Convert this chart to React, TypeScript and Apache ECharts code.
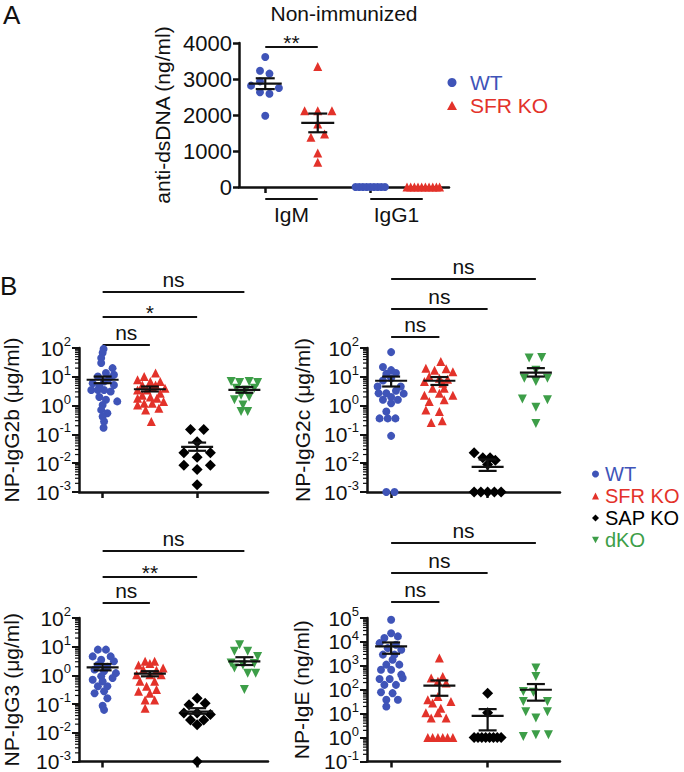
import React, { useEffect, useRef } from "react";
import * as echarts from "echarts";

type Pt = [number, number]; // [horizontal jitter in category units, value]

const FONT = "'Liberation Sans', Arial, Helvetica, sans-serif";
const INK = "#111111";

const GENOTYPES = ["WT", "SFR KO", "SAP KO", "dKO"];
const GENO_COLORS = ["#3f54b8", "#e3322a", "#000000", "#3d9e48"];
const GENO_SYMBOLS = ["circle", "triangle", "diamond", "path://M0,0L10,0L5,9Z"];
const GENO_SIZES = [8, 9, 11, 9];

// ---------- Panel A : Non-immunized anti-dsDNA ----------
const aTitle = "Non-immunized";
const aYName = "anti-dsDNA (ng/ml)";
const aIsotypes = ["IgM", "IgG1"];
const aCategories = ["IgM WT", "IgM SFR KO", "IgG1 WT", "IgG1 SFR KO"];
const aCategoryGeno = [0, 1, 0, 1];
const aYMin = 0;
const aYMax = 4000;
const aYStep = 1000;
const igmWT: Pt[] = [[0, 3610], [-0.1, 3230], [0.08, 3150], [-0.1, 2935], [-0.27, 2815], [0.26, 2750], [-0.1, 2630], [0.08, 2590], [0, 1980]];
const igmSFR: Pt[] = [[0, 3350], [-0.25, 2120], [0, 2120], [0.27, 2120], [0, 1750], [-0.13, 1380], [0.13, 1470], [0, 945], [0, 685]];
const igg1WT: Pt[] = [[-0.28, 0], [-0.21, 0], [-0.14, 0], [-0.07, 0], [0, 0], [0.07, 0], [0.14, 0], [0.21, 0], [0.28, 0]];
const igg1SFR: Pt[] = [[-0.3, 0], [-0.23, 0], [-0.16, 0], [-0.09, 0], [-0.02, 0], [0.05, 0], [0.12, 0], [0.19, 0], [0.26, 0], [0.32, 0]];
const aStatCats = [0, 1];
const aMean = [2870, 1780];
const aSemLow = [2720, 1520];
const aSemHigh = [3020, 2040];
const aSig = ["**"];

// ---------- Panel B : NP-specific isotypes (log scale) ----------
const igg2bWT: Pt[] = [[0.02, 93], [0, 68], [-0.03, 45], [-0.03, 30], [0.21, 20], [0.07, 13.5], [0.24, 11.7], [-0.1, 10.2], [0.14, 8.9], [0.03, 6.9], [-0.21, 6.0], [0.24, 5.2], [-0.07, 4.6], [-0.24, 3.5], [-0.1, 3.5], [0.03, 3.5], [0.17, 3.1], [-0.07, 2.0], [0.07, 1.6], [0.31, 1.4], [0, 1.05], [-0.03, 0.71], [0.1, 0.54], [0, 0.42], [0.03, 0.28], [0.02, 0.17]];
const igg2bSFR: Pt[] = [[0.12, 13.5], [-0.12, 10.2], [-0.26, 7.9], [0.01, 6.9], [0.22, 6.9], [-0.16, 5.2], [0.12, 5.2], [0.32, 4.0], [-0.26, 3.5], [-0.06, 3.5], [0.05, 4.6], [0.22, 2.7], [-0.16, 2.3], [0.01, 2.0], [-0.26, 1.8], [0.15, 1.8], [0.29, 1.4], [-0.12, 1.2], [0.05, 1.2], [0.19, 0.81], [-0.09, 0.71], [-0.26, 1.05], [0.03, 0.28]];
const igg2bSAP: Pt[] = [[-0.14, 0.148], [0.14, 0.148], [0, 0.056], [-0.28, 0.023], [0.28, 0.023], [0, 0.016], [-0.28, 0.0085], [0.28, 0.0085], [0, 0.006], [0, 0.0018]];
const igg2bDKO: Pt[] = [[-0.28, 6.9], [-0.1, 6.3], [0.1, 6.9], [0.28, 6.3], [-0.17, 4.0], [0.03, 3.5], [0.21, 4.0], [-0.07, 2.3], [0.1, 2.0], [-0.21, 1.6], [-0.03, 1.05], [-0.07, 0.62], [0.07, 0.62]];
const igg2bMean = [7.9, 3.7, 0.037, 3.5];
const igg2bSemLow = [6.0, 3.1, 0.027, 2.8];
const igg2bSemHigh = [10.2, 4.6, 0.052, 4.4];
const igg2bSig = ["ns", "*", "ns"];

const igg2cWT: Pt[] = [[0, 72], [-0.17, 22], [0, 17], [0.1, 13.5], [-0.1, 12.6], [0, 8.9], [-0.17, 7.4], [0.2, 4.6], [-0.28, 4.6], [-0.26, 2.7], [-0.1, 2.7], [0.1, 3.3], [0.26, 2.6], [0, 2.0], [-0.17, 1.6], [0.14, 1.6], [0, 1.2], [-0.1, 0.62], [-0.24, 0.36], [-0.07, 0.36], [0.09, 0.36], [0, 0.089], [-0.1, 0.001], [0.07, 0.001]];
const igg2cSFR: Pt[] = [[0.03, 34], [-0.28, 20], [-0.1, 17], [0.14, 19], [0.28, 15], [-0.21, 10.2], [0, 8.9], [0.17, 8.3], [-0.31, 6.9], [0.07, 6.0], [-0.14, 4.0], [0.1, 4.0], [-0.31, 2.3], [0, 2.7], [0.28, 2.3], [-0.21, 1.4], [0.1, 1.6], [-0.28, 0.71], [0, 0.62], [-0.17, 0.26], [0.06, 0.3]];
const igg2cSAP: Pt[] = [[-0.28, 0.023], [-0.1, 0.0155], [0.05, 0.0155], [0.16, 0.0126], [0, 0.009], [-0.28, 0.001], [-0.14, 0.001], [0, 0.001], [0.14, 0.001], [0.28, 0.001]];
const igg2cDKO: Pt[] = [[-0.14, 45], [0.12, 47], [0, 17], [-0.24, 8.9], [0.24, 8.9], [0, 6.9], [-0.28, 1.7], [0.24, 1.6], [0, 0.87], [0, 0.24]];
const igg2cMean = [7.3, 7.3, 0.0074, 14];
const igg2cSemLow = [4.6, 5.2, 0.0054, 10.2];
const igg2cSemHigh = [10.2, 9.8, 0.0135, 20];
const igg2cSig = ["ns", "ns", "ns"];

const igg3WT: Pt[] = [[-0.1, 7.9], [0.07, 7.9], [-0.21, 4.6], [0.17, 4.6], [-0.03, 3.5], [0.24, 3.1], [-0.1, 2.3], [0.1, 2.0], [-0.17, 1.6], [0.03, 1.4], [0.28, 1.2], [-0.03, 0.93], [0.21, 0.81], [-0.21, 0.71], [0, 0.62], [-0.1, 0.42], [0.1, 0.42], [-0.17, 0.24], [0.03, 0.28], [0.1, 0.16], [0, 0.087], [0.03, 0.063]];
const igg3SFR: Pt[] = [[-0.1, 3.1], [0.1, 3.1], [-0.24, 2.3], [0, 2.6], [0.28, 1.8], [-0.14, 1.6], [0.14, 1.5], [-0.28, 1.05], [0, 1.05], [0.24, 1.05], [-0.21, 0.62], [0.1, 0.62], [-0.07, 0.42], [0.14, 0.32], [-0.24, 0.28], [0, 0.24], [-0.1, 0.14], [0.1, 0.14], [-0.1, 0.072]];
const igg3SAP: Pt[] = [[0, 0.16], [-0.17, 0.095], [0.17, 0.107], [-0.28, 0.049], [0, 0.049], [0.28, 0.043], [-0.14, 0.028], [0.14, 0.028], [0, 0.019], [0, 0.001]];
const igg3DKO: Pt[] = [[-0.1, 11.7], [-0.21, 6.9], [0.07, 6.9], [0.28, 4.6], [-0.28, 2.7], [-0.03, 2.3], [0.21, 2.6], [-0.21, 1.8], [0.07, 1.2], [0.24, 1.2], [0, 0.32]];
const igg3Mean = [1.9, 1.15, 0.055, 3.1];
const igg3SemLow = [1.5, 0.93, 0.046, 2.3];
const igg3SemHigh = [2.5, 1.4, 0.072, 4.3];
const igg3Sig = ["ns", "**", "ns"];

const igeWT: Pt[] = [[0, 85000], [0, 23000], [-0.14, 14500], [0.14, 17000], [-0.24, 8900], [0.1, 7600], [-0.07, 5500], [0.21, 4700], [-0.17, 2950], [0.07, 2950], [0.03, 1800], [-0.1, 1120], [0.17, 1120], [-0.21, 690], [0, 690], [0.21, 430], [-0.24, 280], [-0.03, 280], [0.24, 310], [-0.14, 160], [0.1, 160], [-0.21, 78], [0.03, 72], [-0.1, 38], [0.14, 38], [-0.1, 20]];
const igeSFR: Pt[] = [[0, 2150], [-0.17, 310], [0.07, 360], [-0.03, 225], [0.14, 190], [-0.24, 38], [-0.03, 52], [-0.14, 28], [0.24, 32], [0.03, 17], [-0.28, 11], [-0.03, 11], [-0.17, 6.6], [0.14, 6.6], [-0.24, 1], [-0.14, 1], [-0.03, 1], [0.07, 1], [0.17, 1], [0.28, 1]];
const igeSAP: Pt[] = [[0, 72], [0, 11], [-0.28, 1], [-0.2, 1], [-0.12, 1], [-0.04, 1], [0.04, 1], [0.12, 1], [0.2, 1], [0.28, 1]];
const igeDKO: Pt[] = [[0, 810], [0, 360], [-0.26, 85], [-0.05, 78], [-0.26, 32], [0.24, 32], [-0.21, 12], [0.24, 12], [0, 6.6], [-0.26, 1.1], [0, 1.3], [0.26, 1.3]];
const igeMean = [6500, 148, 8.1, 100];
const igeSemLow = [3200, 56, 2.0, 35];
const igeSemHigh = [9500, 245, 15.5, 173];
const igeSig = ["ns", "ns", "ns"];

const bNames = ["NP-IgG2b (μg/ml)", "NP-IgG2c (μg/ml)", "NP-IgG3 (μg/ml)", "NP-IgE (ng/ml)"];
const bLogMin = [-3, -3, -3, -1];
const bLogMax = [2, 2, 2, 5];
const bGroups = [
  [igg2bWT, igg2bSFR, igg2bSAP, igg2bDKO],
  [igg2cWT, igg2cSFR, igg2cSAP, igg2cDKO],
  [igg3WT, igg3SFR, igg3SAP, igg3DKO],
  [igeWT, igeSFR, igeSAP, igeDKO],
];
const bMeans = [igg2bMean, igg2cMean, igg3Mean, igeMean];
const bSemLows = [igg2bSemLow, igg2cSemLow, igg3SemLow, igeSemLow];
const bSemHighs = [igg2bSemHigh, igg2cSemHigh, igg3SemHigh, igeSemHigh];
const bSigs = [igg2bSig, igg2cSig, igg3Sig, igeSig];

// ---------- layout ----------
const GRID_BOXES = [
  { left: 239, top: 43, width: 210, height: 144 },
  { left: 75, top: 348, width: 193, height: 144 },
  { left: 367, top: 348, width: 193, height: 144 },
  { left: 75, top: 618, width: 193, height: 144 },
  { left: 367, top: 618, width: 193, height: 144 },
];
const NAME_GAPS = [66, 57, 54, 57, 55];
const SIG_OFFSETS = [
  [-3, -31, -56],
  [-11, -39, -69],
  [-15, -41, -67],
  [-16, -45, -75],
];

const axisLineStyle = { color: INK, width: 2.5 };

function errorBarRender(halfMean: number, halfCap: number) {
  return (_params: any, api: any) => {
    const x = api.value(0);
    const pm = api.coord([x, api.value(1)]);
    const pl = api.coord([x, api.value(2)]);
    const ph = api.coord([x, api.value(3)]);
    const st = { stroke: INK, lineWidth: 2.2 };
    return {
      type: "group",
      children: [
        { type: "line", shape: { x1: pm[0] - halfMean, y1: pm[1], x2: pm[0] + halfMean, y2: pm[1] }, style: st },
        { type: "line", shape: { x1: pl[0], y1: pl[1], x2: ph[0], y2: ph[1] }, style: st },
        { type: "line", shape: { x1: pl[0] - halfCap, y1: pl[1], x2: pl[0] + halfCap, y2: pl[1] }, style: st },
        { type: "line", shape: { x1: ph[0] - halfCap, y1: ph[1], x2: ph[0] + halfCap, y2: ph[1] }, style: st },
      ],
    };
  };
}

function minorTickRender(_params: any, api: any) {
  const p = api.coord([api.value(0), api.value(1)]);
  return {
    type: "line",
    shape: { x1: p[0] - 4, y1: p[1], x2: p[0], y2: p[1] },
    style: { stroke: INK, lineWidth: 1.2 },
  };
}

function scatter(geno: number, pts: Pt[], cat: number, gi: number, log: boolean) {
  return {
    type: "scatter",
    name: GENOTYPES[geno],
    xAxisIndex: 2 * gi + 1,
    yAxisIndex: gi,
    symbol: GENO_SYMBOLS[geno],
    symbolSize: GENO_SIZES[geno],
    itemStyle: { color: GENO_COLORS[geno], opacity: 1 },
    silent: true,
    z: 3,
    data: pts.map(([j, v]) => [cat + j, log ? Math.log10(v) : v]),
  };
}

function buildOption() {
  const grid = GRID_BOXES.map((b) => ({ ...b, containLabel: false }));
  const xAxis: any[] = [];
  const yAxis: any[] = [];
  const series: any[] = [];

  GRID_BOXES.forEach((_, gi) => {
    xAxis.push({
      type: "category",
      gridIndex: gi,
      data: gi === 0 ? aCategories : GENOTYPES,
      boundaryGap: true,
      axisLine: { show: true, onZero: false, lineStyle: axisLineStyle },
      axisTick: { show: true, alignWithLabel: true, length: 6, lineStyle: axisLineStyle },
      axisLabel: { show: false },
      splitLine: { show: false },
    });
    xAxis.push({ type: "value", gridIndex: gi, min: -0.5, max: 3.5, show: false });
  });

  // Panel A axis
  yAxis.push({
    type: "value",
    gridIndex: 0,
    min: aYMin,
    max: aYMax,
    interval: aYStep,
    name: aYName,
    nameLocation: "middle",
    nameRotate: 90,
    nameGap: NAME_GAPS[0],
    nameTextStyle: { fontSize: 21, fontFamily: FONT, color: INK },
    axisLine: { show: true, onZero: false, lineStyle: axisLineStyle },
    axisTick: { show: true, length: 6, lineStyle: axisLineStyle },
    axisLabel: { fontSize: 22, fontFamily: FONT, color: INK, margin: 7, formatter: (v: number) => String(v) },
    splitLine: { show: false },
  });
  const aSets = [igmWT, igmSFR, igg1WT, igg1SFR];
  aSets.forEach((pts, cat) => series.push(scatter(aCategoryGeno[cat], pts, cat, 0, false)));
  series.push({
    type: "custom",
    xAxisIndex: 1,
    yAxisIndex: 0,
    silent: true,
    z: 5,
    renderItem: errorBarRender(16.5, 9.5),
    encode: { x: 0, y: [1, 2, 3] },
    data: aStatCats.map((c, k) => [c, aMean[k], aSemLow[k], aSemHigh[k]]),
  });

  // Panel B axes
  bNames.forEach((nm, p) => {
    const gi = p + 1;
    yAxis.push({
      type: "value",
      gridIndex: gi,
      min: bLogMin[p],
      max: bLogMax[p],
      interval: 1,
      name: nm,
      nameLocation: "middle",
      nameRotate: 90,
      nameGap: NAME_GAPS[gi],
      nameTextStyle: { fontSize: 21, fontFamily: FONT, color: INK },
      axisLine: { show: true, onZero: false, lineStyle: axisLineStyle },
      axisTick: { show: true, length: 7, lineStyle: { color: INK, width: 2 } },
      axisLabel: {
        margin: 8,
        showMinLabel: true,
        showMaxLabel: true,
        hideOverlap: false,
        formatter: (v: number) => `{b|10}{s|${Math.round(v)}}`,
        rich: {
          b: { fontSize: 21, fontFamily: FONT, color: INK, lineHeight: 26 },
          s: { fontSize: 13, fontFamily: FONT, color: INK, lineHeight: 13, verticalAlign: "top" },
        },
      },
      splitLine: { show: false },
    });
    bGroups[p].forEach((pts, g) => series.push(scatter(g, pts, g, gi, true)));
    series.push({
      type: "custom",
      xAxisIndex: 2 * gi + 1,
      yAxisIndex: gi,
      silent: true,
      z: 5,
      renderItem: errorBarRender(16, 9),
      encode: { x: 0, y: [1, 2, 3] },
      data: bMeans[p].map((m, g) => [g, Math.log10(m), Math.log10(bSemLows[p][g]), Math.log10(bSemHighs[p][g])]),
    });
    const minor: number[][] = [];
    for (let n = bLogMin[p]; n < bLogMax[p]; n++) {
      for (let k = 2; k <= 9; k++) minor.push([-0.5, n + Math.log10(k)]);
    }
    series.push({
      type: "custom",
      xAxisIndex: 2 * gi + 1,
      yAxisIndex: gi,
      silent: true,
      clip: false,
      z: 2,
      renderItem: minorTickRender,
      encode: { x: 0, y: 1 },
      data: minor,
    });
  });

  return {
    animation: false,
    backgroundColor: "#ffffff",
    grid,
    xAxis,
    yAxis,
    series,
    legend: [
      {
        orient: "vertical",
        left: 442,
        top: 67,
        itemWidth: 10,
        itemHeight: 9,
        itemGap: 2,
        selectedMode: false,
        textStyle: { fontSize: 21, fontFamily: FONT, padding: [0, 0, 0, 8] },
        data: [0, 1].map((g) => ({ name: GENOTYPES[g], textStyle: { color: GENO_COLORS[g] } })),
      },
      {
        orient: "vertical",
        left: 587,
        top: 459,
        itemWidth: 7,
        itemHeight: 7,
        itemGap: 2,
        selectedMode: false,
        textStyle: { fontSize: 20, fontFamily: FONT, padding: [0, 0, 0, 1] },
        data: GENOTYPES.map((n, g) => ({ name: n, textStyle: { color: GENO_COLORS[g] } })),
      },
    ],
  };
}

export default function App() {
  const ref = useRef<HTMLDivElement>(null);
  useEffect(() => {
    if (!ref.current) return;
    const chart = echarts.init(ref.current, null, { renderer: "svg" });
    chart.setOption(buildOption() as any);

    const px = (gi: number, v: number) => chart.convertToPixel({ xAxisIndex: 2 * gi + 1 } as any, v) as unknown as number;
    const font = (s: number) => `${s}px ${FONT}`;
    const line = (x1: number, y1: number, x2: number, y2: number) => ({
      type: "line",
      silent: true,
      shape: { x1, y1, x2, y2 },
      style: { stroke: INK, lineWidth: 2 },
    });
    const text = (t: string, x: number, y: number, size: number, align: string, valign: string) => ({
      type: "text",
      silent: true,
      x,
      y,
      style: { text: t, font: font(size), fill: INK, textAlign: align, textVerticalAlign: valign },
    });
    const sigText = (t: string, x: number, barY: number) =>
      t === "ns" ? text(t, x, barY - 2, 21, "center", "bottom") : text(t, x, barY - 5, 21, "center", "middle");

    const g: any[] = [];
    const A = GRID_BOXES[0];
    g.push(text("A", 3, 2, 26, "left", "top"));
    g.push(text("B", 0, 273, 26, "left", "top"));
    g.push(text(aTitle, A.left + A.width / 2, 13, 21, "center", "middle"));
    // isotype group labels under panel A
    aIsotypes.forEach((iso, k) => {
      const x1 = px(0, 2 * k);
      const x2 = px(0, 2 * k + 1);
      const yb = A.top + A.height;
      g.push(line(x1, yb + 12, x2, yb + 12));
      g.push(text(iso, (x1 + x2) / 2, yb + 27, 21, "center", "middle"));
    });
    // significance panel A
    {
      const x1 = px(0, 0);
      const x2 = px(0, 1);
      const y = A.top + 4;
      g.push(line(x1, y, x2, y));
      g.push(sigText(aSig[0], (x1 + x2) / 2, y));
    }
    // significance panels B
    bSigs.forEach((sigs, p) => {
      const gi = p + 1;
      const top = GRID_BOXES[gi].top;
      sigs.forEach((s, c) => {
        const x1 = px(gi, 0);
        const x2 = px(gi, c + 1);
        const y = top + SIG_OFFSETS[p][c];
        g.push(line(x1, y, x2, y));
        g.push(sigText(s, (x1 + x2) / 2, y));
      });
    });
    chart.setOption({ graphic: g } as any);

    return () => chart.dispose();
  }, []);
  return <div ref={ref} style={{ position: "fixed", left: 0, top: 0, width: 684, height: 772 }} />;
}
